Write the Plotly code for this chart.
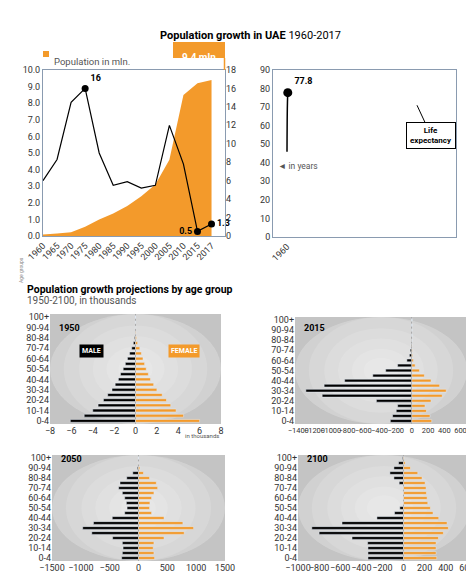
import plotly.graph_objects as go

years = ["1960","1965","1970","1975","1980","1985","1990","1995","2000","2005","2010","2015","2017"]
population_mln = [0.09,0.15,0.23,0.55,1.0,1.35,1.8,2.4,3.1,4.6,8.5,9.2,9.4]
growth_pct = [6.0,8.3,14.5,16.0,9.0,5.5,5.9,5.2,5.5,12.0,7.8,0.5,1.3]
life_exp = [46,53,58.5,63,66.5,69,71,72.5,74,75.3,76.5,77.4,77.8]

ages = ["0-4","5-9","10-14","15-19","20-24","25-29","30-34","35-39","40-44","45-49","50-54",
        "55-59","60-64","65-69","70-74","75-79","80-84","85-89","90-94","95-99","100+"]
age_ticks = ["0-4","10-14","20-24","30-34","40-44","50-54","60-64","70-74","80-84","90-94","100+"]

male_1950 = [-6.1,-4.8,-4.0,-3.5,-3.0,-2.6,-2.2,-1.9,-1.6,-1.4,-1.15,-0.95,-0.75,-0.55,-0.35,-0.2,-0.1,-0.05,-0.02,-0.01,0]
female_1950 = [6.0,4.5,3.8,3.3,2.9,2.5,2.0,1.7,1.4,1.2,1.0,0.85,0.7,0.55,0.4,0.2,0.1,0.05,0.02,0.01,0]
male_2015 = [-265,-237,-192,-175,-437,-1105,-1306,-1081,-828,-481,-322,-175,-61,-30,-20,-10,-5,-2,-2,-1,0]
female_2015 = [245,224,180,163,237,375,424,343,237,155,94,41,20,10,6,3,2,1,1,0,0]
male_2050 = [-292,-280,-268,-280,-449,-810,-968,-781,-455,-239,-198,-210,-239,-280,-344,-321,-204,-99,-20,-5,-1]
female_2050 = [280,268,256,268,443,793,956,770,443,227,192,198,227,268,332,309,192,87,23,5,1]
male_2100 = [-337,-337,-337,-340,-488,-800,-869,-583,-252,-85,-35,0,0,0,0,-41,-91,-129,-91,-47,-10]
female_2100 = [315,309,309,309,331,378,425,413,334,280,255,230,224,217,214,205,176,135,66,16,5]

ORANGE = "#f39a2b"
FONT = "Roboto"
W, H = 474, 579
px = lambda x: x / W
py = lambda y: 1 - y / H

fig = go.Figure()

fig.add_trace(go.Scatter(x=years, y=population_mln, fill="tozeroy", mode="none",
                         fillcolor=ORANGE, xaxis="x", yaxis="y", showlegend=False))
fig.add_trace(go.Scatter(x=years, y=growth_pct, mode="lines", line=dict(color="black", width=1.2),
                         xaxis="x", yaxis="y2", showlegend=False))
mk_idx = [3, 11, 12]
fig.add_trace(go.Scatter(x=[years[i] for i in mk_idx], y=[growth_pct[i] for i in mk_idx],
                         mode="markers+text", marker=dict(color="black", size=7),
                         text=["<b>16</b>", "<b>0.5</b>", "<b>1.3</b>"],
                         textposition=["top right", "middle left", "middle right"],
                         textfont=dict(size=9, color="black"),
                         xaxis="x", yaxis="y2", showlegend=False, cliponaxis=False))

fig.add_trace(go.Scatter(x=years, y=life_exp, mode="lines", line=dict(color="black", width=1.5, shape="spline"),
                         xaxis="x2", yaxis="y3", showlegend=False))
fig.add_trace(go.Scatter(x=[years[-1]], y=[life_exp[-1]], mode="markers+text",
                         marker=dict(color="black", size=9), text=["<b>77.8</b>"],
                         textposition="top right", textfont=dict(size=9, color="black"),
                         xaxis="x2", yaxis="y3", showlegend=False, cliponaxis=False))

pyr = [(male_1950, female_1950, "x3", "y4"), (male_2015, female_2015, "x4", "y5"),
       (male_2050, female_2050, "x5", "y6"), (male_2100, female_2100, "x6", "y7")]
for m, f, xa, ya in pyr:
    fig.add_trace(go.Bar(y=ages, x=m, orientation="h", marker_color="black", xaxis=xa, yaxis=ya,
                         showlegend=False, width=0.55))
    fig.add_trace(go.Bar(y=ages, x=f, orientation="h", marker_color=ORANGE, xaxis=xa, yaxis=ya,
                         showlegend=False, width=0.55))

tickfont = dict(size=9, color="#333", family=FONT)
frame = dict(showline=True, linecolor="#8a9bb0", linewidth=1, mirror=True, showgrid=False, zeroline=False,
             automargin=False)

layout = dict(
    width=W, height=H, margin=dict(l=0, r=0, t=0, b=0, autoexpand=False),
    plot_bgcolor="white", paper_bgcolor="white",
    barmode="overlay", font=dict(family=FONT),
    xaxis=dict(domain=[px(35), px(217)], anchor="y", type="category", tickangle=-45, tickfont=tickfont, **frame),
    yaxis=dict(domain=[py(228), py(62)], range=[0, 10], dtick=1, tickformat=".1f", tickfont=tickfont, **frame),
    yaxis2=dict(overlaying="y", side="right", range=[0, 18], dtick=2, tickfont=tickfont,
                showgrid=False, zeroline=False, anchor="x", automargin=False),
    xaxis2=dict(domain=[px(265), px(448)], anchor="y3", type="category", tickangle=-45, tickfont=tickfont, **frame),
    yaxis3=dict(domain=[py(229), py(62)], anchor="x2", range=[0, 90], dtick=10, tickfont=tickfont, **frame),
)
pdoms = [([42, 213], [416, 306], [-8, 8], 2, 9), ([287, 459], [416, 309], [-1440, 680], 200, 7.5),
         ([44, 217], [553, 447], [-1500, 1500], 500, 9), ([290, 462], [553, 447], [-1000, 630], 200, 9)]
for i, (xd, yd, xr, dt, fs) in enumerate(pdoms):
    xn, yn = i + 3, i + 4
    layout[f"xaxis{xn}"] = dict(domain=[px(xd[0]), px(xd[1])], anchor=f"y{yn}", range=xr, dtick=dt,
                                tickangle=0, automargin=False,
                                tickfont=dict(size=fs, color="#333", family=FONT), showgrid=False,
                                zeroline=True, zerolinecolor="#aaa", zerolinewidth=0.5, ticks="")
    layout[f"yaxis{yn}"] = dict(domain=[py(yd[0]), py(yd[1])], anchor=f"x{xn}", type="category",
                                categoryorder="array", categoryarray=ages, tickvals=age_ticks,
                                range=[-0.6, 20.6], tickfont=tickfont, showgrid=False, automargin=False)
fig.update_layout(**layout)

for i, (xd, yd, xr, dt, fs) in enumerate(pdoms):
    fig.add_shape(type="rect", xref="paper", yref="paper", x0=px(xd[0]), x1=px(xd[1]),
                  y0=py(yd[0]), y1=py(yd[1]), fillcolor="#c4c4c4", line_width=0, layer="below")
    cx = (xd[0] + xd[1]) / 2
    cy = (yd[0] + yd[1]) / 2
    for rw in [0.62, 0.52, 0.42, 0.33, 0.25, 0.17, 0.1]:
        w = (xd[1] - xd[0]) * rw
        h = (yd[0] - yd[1]) * rw * 1.2
        fig.add_shape(type="circle", xref="paper", yref="paper", x0=px(max(cx - w, xd[0])),
                      x1=px(min(cx + w, xd[1])), y0=py(min(cy + h, yd[0])), y1=py(max(cy - h, yd[1])),
                      fillcolor="white", opacity=0.13, line_width=0, layer="below")

fig.add_shape(type="rect", xref="paper", yref="paper", x0=px(165), x1=px(217), y0=py(50), y1=py(34),
              fillcolor=ORANGE, line_width=0, layer="below")
fig.add_shape(type="line", xref="paper", yref="paper", x0=px(216.5), x1=px(216.5), y0=py(62), y1=py(50),
              line=dict(color=ORANGE, width=1.5))
fig.add_shape(type="rect", xref="paper", yref="paper", x0=px(35), x1=px(41), y0=py(49), y1=py(43),
              fillcolor=ORANGE, line_width=0)

ann = [
    dict(x=px(150), y=py(19), text="<b>Population growth in UAE</b> 1960-2017", font=dict(size=11, color="black")),
    dict(x=px(191), y=py(42), text="<b>9.4 mln</b>", font=dict(size=10, color="white")),
    dict(x=px(44), y=py(46), text="Population in mln.", font=dict(size=9.5, color="#555"), xanchor="left"),
    dict(x=px(268), y=py(151), text="◄ in years", font=dict(size=8.5, color="#555"), xanchor="left"),
    dict(x=px(8), y=py(262), text="Age groups", font=dict(size=5, color="#888"), textangle=-90),
    dict(x=px(17), y=py(281), text="<b>Population growth projections by age group</b>",
         font=dict(size=10.5, color="black"), xanchor="left"),
    dict(x=px(17), y=py(293), text="1950-2100, in thousands", font=dict(size=10, color="#555"), xanchor="left"),
    dict(x=px(213), y=py(433), text="in thousands", font=dict(size=6, color="#555"), xanchor="right"),
    dict(x=px(49), y=py(320), text="<b>1950</b>", font=dict(size=9, color="black"), xanchor="left"),
    dict(x=px(294), y=py(320), text="<b>2015</b>", font=dict(size=9, color="black"), xanchor="left"),
    dict(x=px(51), y=py(458), text="<b>2050</b>", font=dict(size=9, color="black"), xanchor="left"),
    dict(x=px(297), y=py(458), text="<b>2100</b>", font=dict(size=9, color="black"), xanchor="left"),
    dict(x=px(71), y=py(343), text="<b>MALE</b>", font=dict(size=7, color="white"), bgcolor="black",
         borderpad=2),
    dict(x=px(176), y=py(343), text="<b>FEMALE</b>", font=dict(size=7, color="white"), bgcolor=ORANGE,
         borderpad=2),
]
for a in ann:
    a.setdefault("xref", "paper"); a.setdefault("yref", "paper"); a.setdefault("showarrow", False)
    fig.add_annotation(**a)

fig.add_annotation(x="2005", y=71, xref="x2", yref="y3", text="<b>Life<br>expectancy</b>",
                   showarrow=True, arrowhead=0, arrowwidth=1, arrowcolor="black", ax=14, ay=30,
                   bordercolor="black", borderwidth=1, bgcolor="white", borderpad=3,
                   font=dict(size=8, color="black"))

fig.write_html("out.html")
